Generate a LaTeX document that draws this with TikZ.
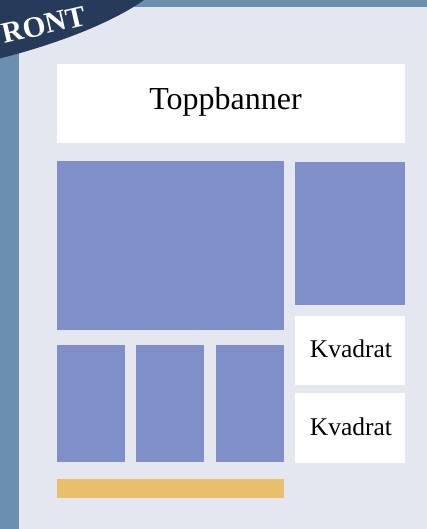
\documentclass[tikz,border=0pt]{standalone}
\usepackage{fontspec}
\setmainfont{Liberation Serif}
\definecolor{frame}{HTML}{6B8FAE}
\definecolor{panel}{HTML}{E4E7EF}
\definecolor{navy}{HTML}{263A5A}
\definecolor{slot}{HTML}{7F90C8}
\definecolor{bar}{HTML}{E8C06C}
\tikzset{
  slotbox/.style={fill=slot, draw=none},
  whitebox/.style={fill=white, draw=none},
  lbl/.style={font=\fontsize{25.5}{27}\selectfont, text=black, anchor=base, inner sep=0pt},
}
\begin{document}
\begin{tikzpicture}[x=1pt,y=-1pt]
\useasboundingbox (0,0) rectangle (427,529);
\fill[frame] (0,0) rectangle (427,529);
\fill[panel] (19,7) rectangle (427,529);
\begin{scope}
\clip (0,0) rectangle (427,529);
\fill[navy, rotate around={15:(0,15)}] (0,15) ellipse [x radius=170pt, y radius=42pt];
\node[rotate=13, text=white, inner sep=0pt, font=\fontsize{29.5}{31}\selectfont\bfseries] (front) at (35,27) {FRONT};
\end{scope}
\fill[whitebox] (57,64) rectangle (405,143);
\node[lbl, font=\fontsize{32}{34}\selectfont] (top) at (225.5,110) {Toppbanner};
\fill[slotbox] (57,161) rectangle (284,330);
\fill[slotbox] (295,162) rectangle (405,305);
\fill[whitebox] (295,316) rectangle (405,385);
\node[lbl] (k1) at (351,357) {Kvadrat};
\fill[whitebox] (295,393) rectangle (405,463);
\node[lbl] (k2) at (351,435) {Kvadrat};
\fill[slotbox] (57,345) rectangle (125,462);
\fill[slotbox] (136,345) rectangle (204,462);
\fill[slotbox] (216,345) rectangle (284,462);
\fill[bar] (57,479) rectangle (284,498);
\end{tikzpicture}
\end{document}
